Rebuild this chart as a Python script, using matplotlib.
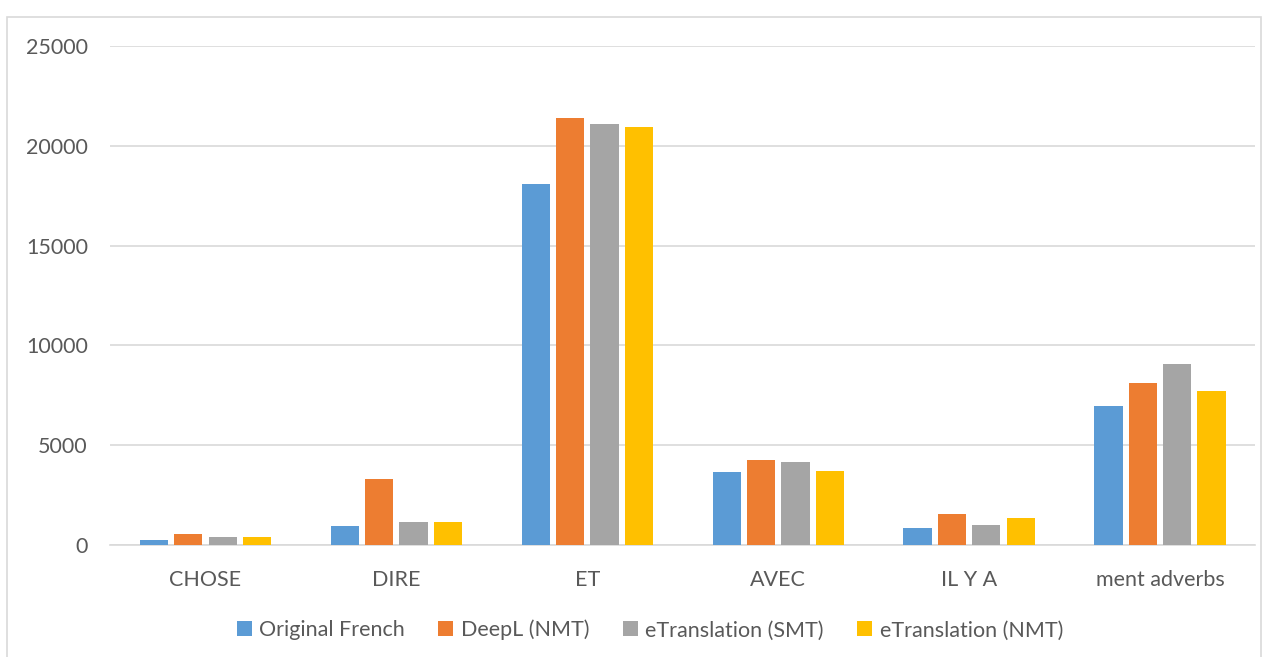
import numpy as np
import matplotlib.pyplot as plt
from matplotlib.patches import Rectangle

categories = ["CHOSE", "DIRE", "ET", "AVEC", "IL Y A", "ment adverbs"]
series_names = ["Original French", "DeepL (NMT)", "eTranslation (SMT)", "eTranslation (NMT)"]
original_french = [250, 935, 18070, 3680, 835, 6970]
deepl_nmt = [550, 3310, 21410, 4280, 1570, 8125]
etrans_smt = [400, 1150, 21110, 4180, 985, 9060]
etrans_nmt = [400, 1140, 20960, 3730, 1370, 7690]
y_ticks = [0, 5000, 10000, 15000, 20000, 25000]

colors = ["#5B9BD5", "#ED7D31", "#A5A5A5", "#FFC000"]
text_color = "#595959"

plt.rcParams['font.family'] = ['Lato', 'DejaVu Sans']

fig = plt.figure(figsize=(12.72, 6.57), dpi=100)
ax = fig.add_axes([0.0865, 0.1705, 0.9005, 0.7595])

# outer chart border like the Excel chart area
fig.patches.append(Rectangle((7 / 1272, -0.1), 1254 / 1272, 1.1 - 17 / 657,
                             transform=fig.transFigure, fill=False,
                             edgecolor="#D9D9D9", linewidth=1.2))

x = np.arange(len(categories))
pitch = 0.18
width = 0.148
all_series = [original_french, deepl_nmt, etrans_smt, etrans_nmt]
for i, (vals, name, c) in enumerate(zip(all_series, series_names, colors)):
    ax.bar(x + (i - 1.5) * pitch, vals, width, color=c, label=name, zorder=3)

ax.set_xlim(-0.5, len(categories) - 0.5)
ax.set_ylim(0, 25000)
ax.set_yticks(y_ticks)
ax.set_yticklabels([str(t) for t in y_ticks])
ax.set_xticks(x)
ax.set_xticklabels(categories)
ax.grid(axis="y", color="#D9D9D9", linewidth=1.2, zorder=0)
ax.tick_params(axis="both", length=0, labelsize=15.5, colors=text_color)
ax.tick_params(axis="y", pad=16)
ax.tick_params(axis="x", pad=18)
for side in ["top", "right", "left"]:
    ax.spines[side].set_visible(False)
ax.spines["bottom"].set_color("#D9D9D9")
ax.spines["bottom"].set_linewidth(1.2)

leg = fig.legend(loc="center", bbox_to_anchor=(0.511, 0.041), ncol=4, frameon=False,
                 fontsize=15.5, handlelength=0.7, handleheight=0.7,
                 handletextpad=0.35, columnspacing=1.55)
for t in leg.get_texts():
    t.set_color(text_color)

fig.savefig("out.png", dpi=100)
